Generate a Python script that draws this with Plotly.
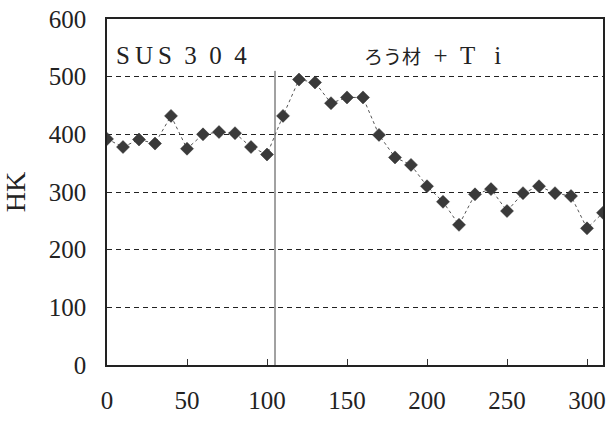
import plotly.graph_objects as go

# Data
position = [0, 10, 20, 30, 40, 50, 60, 70, 80, 90, 100,
            110, 120, 130, 140, 150, 160, 170, 180, 190, 200,
            210, 220, 230, 240, 250, 260, 270, 280, 290, 300, 310]
hardness = [392, 378, 391, 384, 432, 375, 400, 404, 402, 378, 365,
            432, 495, 490, 454, 464, 464, 399, 360, 347, 310,
            283, 243, 296, 305, 267, 298, 310, 298, 293, 237, 264]

x_ticks = [0, 50, 100, 150, 200, 250, 300]
y_ticks = [0, 100, 200, 300, 400, 500, 600]
boundary_x = 105
boundary_top = 510

SERIF = "Liberation Serif, Times New Roman, serif"
CJK = "Noto Sans CJK JP"

fig = go.Figure()
fig.add_trace(go.Scatter(
    x=position, y=hardness, mode="lines+markers",
    line=dict(color="#555555", width=1, dash="dot"),
    marker=dict(symbol="diamond", size=10, color="#3a3a3a",
                line=dict(color="#2a2a2a", width=0.5)),
    showlegend=False, hoverinfo="x+y",
))

fig.add_shape(type="line", x0=boundary_x, x1=boundary_x, y0=0, y1=boundary_top,
              xref="x", yref="y", line=dict(color="#444444", width=1))

nb = "\u00a0"
ts = "\u2009"
sus_text = f"S{ts}U{ts}S{nb*2}3{nb*2}0{nb*2}4"
jp_text = (f'<span style="font-family:{CJK};font-size:19px">ろう材</span>'
           f'{nb*2}+{nb*2}T{nb*2}{nb}i')

fig.add_annotation(x=4.5, y=537, xref="x", yref="y", text=sus_text,
                   showarrow=False, xanchor="left", yanchor="middle",
                   font=dict(family=SERIF, size=25, color="#222222"))
fig.add_annotation(x=159.5, y=537, xref="x", yref="y", text=jp_text,
                   showarrow=False, xanchor="left", yanchor="middle",
                   font=dict(family=SERIF, size=25, color="#222222"))

fig.update_xaxes(
    range=[0, 310], tickvals=x_ticks, ticktext=[str(v) for v in x_ticks],
    showgrid=False, zeroline=False, automargin=False,
    showline=True, linecolor="#222222", linewidth=1.5, mirror=True,
    ticks="inside", ticklen=6, tickwidth=1, tickcolor="#333333",
    ticklabelstandoff=12,
    tickfont=dict(family=SERIF, size=25, color="#222222"),
)
fig.update_yaxes(
    range=[0, 600], tickvals=y_ticks, ticktext=[str(v) for v in y_ticks],
    showgrid=True, gridcolor="#222222", gridwidth=1.3, griddash="5px,4px",
    zeroline=False, automargin=False,
    showline=True, linecolor="#222222", linewidth=1.5, mirror=True,
    ticks="", ticklabelstandoff=14,
    tickfont=dict(family=SERIF, size=25, color="#222222"),
    title=dict(text="HK", font=dict(family=SERIF, size=28, color="#222222"),
               standoff=20),
)

fig.update_layout(
    width=615, height=421,
    margin=dict(l=107, r=12, t=19, b=56),
    paper_bgcolor="white", plot_bgcolor="white",
)

# remove the page's default 8px body margin so the figure fills the window
fig.write_html("out.html", config={"displayModeBar": False},
               post_script="document.body.style.margin='0';")
